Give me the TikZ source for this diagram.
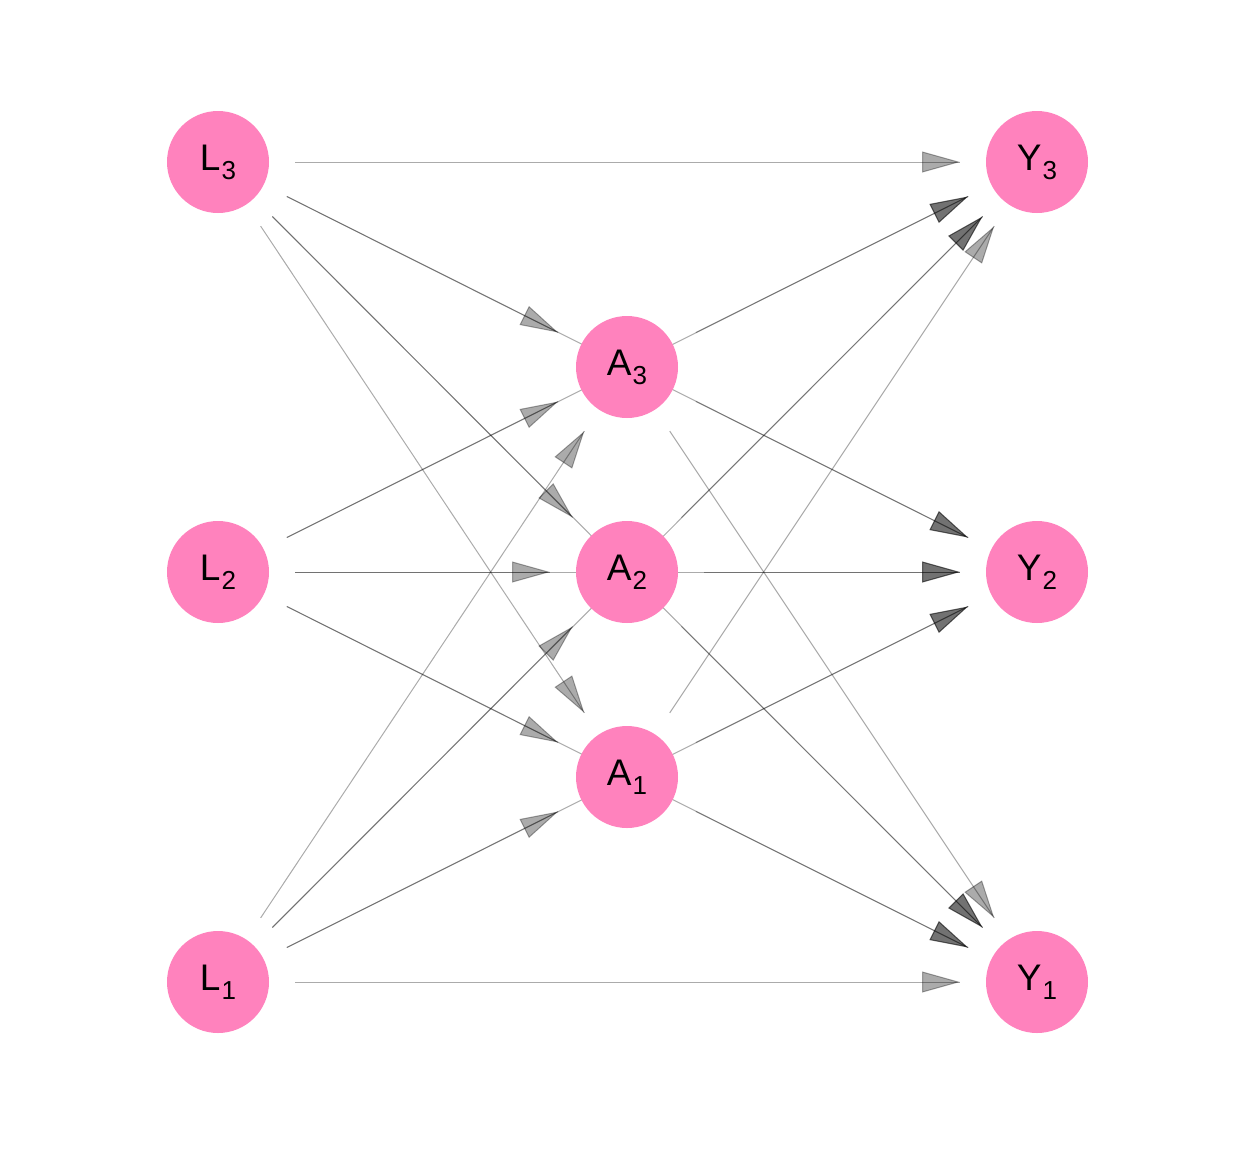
\documentclass[tikz,border=0pt]{standalone}
\usepackage{fontspec}
\setmainfont{Liberation Sans}
\usetikzlibrary{calc,arrows.meta,decorations.markings}
\pgfdeclarelayer{back}
\pgfdeclarelayer{bg}
\pgfsetlayers{back,bg,main}
\definecolor{nodepink}{RGB}{255,130,189}
\newcommand\lab[2]{#1\kern0.5pt\raisebox{-4.5pt}{\fontsize{13pt}{13pt}\selectfont #2}}
\newcommand\edg[2]{\draw[conn] ($(#1.center)!38.5pt!(#2.center)$) -- ($(#2.center)!38.5pt!(#1.center)$);}
\tikzset{
  vtx/.style={circle, fill=nodepink, draw=none, minimum size=51pt, inner sep=0pt,
    font=\fontsize{18.5pt}{18.5pt}\selectfont},
  conn/.style={draw=black, draw opacity=0.33, line width=0.5pt,
    postaction={decorate},
    decoration={markings, mark=at position 1 with {\arrow[fill=black, fill opacity=0.33, draw opacity=0.33, line width=0.5pt]{Triangle[length=19pt,width=10.5pt]}}}}
}
\begin{document}
\begin{tikzpicture}[x=0.5pt,y=-0.5pt]
\begin{pgfonlayer}{back}
\fill[white] (0,0) rectangle (1248,1152);
\end{pgfonlayer}
\useasboundingbox (0,0) rectangle (1248,1152);
\node[vtx] (L3) at (218,162) {\lab{L}{3}};
\node[vtx] (L2) at (218,572) {\lab{L}{2}};
\node[vtx] (L1) at (218,982) {\lab{L}{1}};
\node[vtx] (A3) at (627,367) {\lab{A}{3}};
\node[vtx] (A2) at (627,572) {\lab{A}{2}};
\node[vtx] (A1) at (627,777) {\lab{A}{1}};
\node[vtx] (Y3) at (1037,162) {\lab{Y}{3}};
\node[vtx] (Y2) at (1037,572) {\lab{Y}{2}};
\node[vtx] (Y1) at (1037,982) {\lab{Y}{1}};
\begin{pgfonlayer}{bg}
\foreach \s in {L1,L2,L3} {
  \foreach \t in {A1,A2,A3,Y1,Y2,Y3} {\edg{\s}{\t}}
}
\foreach \s in {A1,A2,A3} {
  \foreach \t in {Y1,Y2,Y3} {\edg{\s}{\t}}
}
\end{pgfonlayer}
\end{tikzpicture}
\end{document}
